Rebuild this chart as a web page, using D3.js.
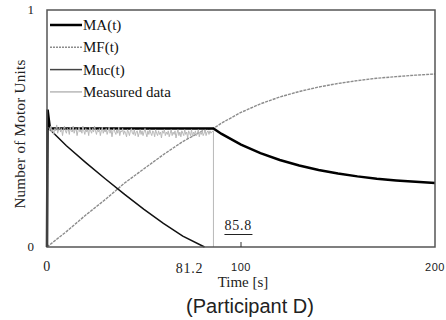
<!DOCTYPE html>
<html>
<head>
<meta charset="utf-8">
<script src="https://cdn.jsdelivr.net/npm/d3@7"></script>
<style>
  body { margin: 0; background: #fff; }
  svg { display: block; }
</style>
</head>
<body>
<svg id="chart" width="446" height="320"></svg>
<script>
// MA(t): active motor units
const maTime = [0, 0.3, 1.5, 85.8, 90, 100, 110, 120, 130, 140, 150, 160, 170, 180, 190, 200];
const maValue = [0, 0.58, 0.5, 0.5, 0.477, 0.432, 0.396, 0.367, 0.344, 0.325, 0.31, 0.298, 0.288, 0.281, 0.275, 0.27];

// MF(t): fatigued motor units
const mfTime = [0, 10, 20, 30, 40, 50, 60, 70, 81.2, 85.8, 90, 100, 110, 120, 130, 140, 150, 160, 170, 180, 190, 200];
const mfValue = [0, 0.065, 0.135, 0.2, 0.27, 0.33, 0.39, 0.445, 0.495, 0.5, 0.523, 0.568, 0.604, 0.633, 0.656, 0.675, 0.69, 0.702, 0.712, 0.719, 0.725, 0.73];

// Muc(t): unrecruited motor units
const mucTime = [1, 10, 20, 30, 40, 50, 60, 70, 81.2];
const mucValue = [0.5, 0.427, 0.356, 0.288, 0.222, 0.159, 0.1, 0.046, 0];

// measured data, two samples per second until the end of the task
const measValue = [0.505, 0.49, 0.51, 0.485, 0.495, 0.475, 0.5, 0.49, 0.515, 0.48,
  0.495, 0.505, 0.485, 0.5, 0.47, 0.495, 0.51, 0.49, 0.48, 0.5,
  0.495, 0.475, 0.505, 0.49, 0.485, 0.51, 0.48, 0.495, 0.5, 0.47,
  0.49, 0.505, 0.485, 0.495, 0.48, 0.51, 0.49, 0.475, 0.5, 0.485,
  0.495, 0.47, 0.505, 0.49, 0.48, 0.5, 0.485, 0.51, 0.49, 0.475,
  0.495, 0.485, 0.5, 0.47, 0.49, 0.505, 0.48, 0.495, 0.485, 0.5,
  0.475, 0.49, 0.505, 0.48, 0.495, 0.465, 0.49, 0.5, 0.485, 0.475,
  0.495, 0.48, 0.505, 0.47, 0.49, 0.485, 0.5, 0.475, 0.49, 0.48,
  0.465, 0.495, 0.485, 0.47, 0.49, 0.5, 0.48, 0.475, 0.495, 0.47,
  0.485, 0.49, 0.465, 0.48, 0.495, 0.475, 0.49, 0.47, 0.485, 0.5,
  0.48, 0.465, 0.49, 0.475, 0.495, 0.48, 0.47, 0.49, 0.485, 0.465,
  0.495, 0.48, 0.47, 0.49, 0.475, 0.485, 0.46, 0.49, 0.48, 0.495,
  0.47, 0.485, 0.475, 0.49, 0.465, 0.48, 0.495, 0.47, 0.485, 0.475,
  0.49, 0.46, 0.48, 0.495, 0.47, 0.485, 0.465, 0.49, 0.48, 0.47,
  0.495, 0.475, 0.485, 0.46, 0.49, 0.48, 0.47, 0.495, 0.465, 0.485,
  0.475, 0.49, 0.47, 0.48, 0.495, 0.465, 0.485, 0.475, 0.49, 0.47,
  0.48, 0.495, 0.47, 0.485, 0.49, 0.475, 0.49, 0.48, 0.485, 0.49];
const measEnd = 85.8;

const xTicks = [0, 81.2, 100, 200];
const yTicks = [0, 1];
const legendItems = ['MA(t)', 'MF(t)', 'Muc(t)', 'Measured data'];

const svg = d3.select('#chart');
const plotLeft = 47, plotRight = 435, plotTop = 10, plotBottom = 247;

const x = d3.scaleLinear().domain([0, 200]).range([plotLeft, plotRight]);
const y = d3.scaleLinear().domain([0, 1]).range([plotBottom, plotTop]);

const line = d3.line().x(d => x(d[0])).y(d => y(d[1]));
const zip = (t, v) => t.map((d, i) => [d, v[i]]);

// measured data with its drop at the end
const meas = measValue.map((v, i) => [1 + i * 0.5, v]).filter(d => d[0] < measEnd);
meas.push([measEnd, 0.49], [measEnd, 0]);

const styles = {
  'MA(t)': {stroke: '#000', width: 2.5, dash: null},
  'MF(t)': {stroke: '#8c8c8c', width: 1.4, dash: '3,1'},
  'Muc(t)': {stroke: '#111', width: 1.5, dash: null},
  'Measured data': {stroke: '#b8b8b8', width: 1, dash: null}
};

function draw(data, key) {
  const s = styles[key];
  svg.append('path')
    .datum(data)
    .attr('fill', 'none')
    .attr('stroke', s.stroke)
    .attr('stroke-width', s.width)
    .attr('stroke-dasharray', s.dash)
    .attr('d', line);
}

draw(zip(mfTime, mfValue), 'MF(t)');
draw(zip(mucTime, mucValue), 'Muc(t)');
draw(zip(maTime, maValue), 'MA(t)');
draw(meas, 'Measured data');

// frame
svg.append('rect')
  .attr('x', plotLeft).attr('y', plotTop)
  .attr('width', plotRight - plotLeft).attr('height', plotBottom - plotTop)
  .attr('fill', 'none')
  .attr('stroke', '#555')
  .attr('stroke-width', 1.5);

// tick at 100
svg.append('line')
  .attr('x1', x(100)).attr('x2', x(100))
  .attr('y1', plotBottom).attr('y2', plotBottom - 5)
  .attr('stroke', '#333');

const serif = 'Liberation Serif, Times New Roman, serif';
const sans = 'Liberation Sans, Arial, sans-serif';

// x tick labels
svg.selectAll('.xt')
  .data(xTicks)
  .enter().append('text')
  .attr('x', d => x(d) - (d === 81.2 ? 15 : 0))
  .attr('y', d => d === 81.2 ? 273 : 271)
  .attr('text-anchor', 'middle')
  .style('font-family', d => (d === 100 || d === 200) ? sans : serif)
  .style('font-size', d => (d === 100 || d === 200) ? '11px' : '14px')
  .style('letter-spacing', d => d === 81.2 ? '0.8px' : '0.5px')
  .style('fill', '#222')
  .text(d => d);

// y tick labels
svg.selectAll('.yt')
  .data(yTicks)
  .enter().append('text')
  .attr('x', 34)
  .attr('y', d => y(d) + 4)
  .attr('text-anchor', 'end')
  .style('font-family', serif)
  .style('font-size', '13px')
  .style('fill', '#222')
  .text(d => d);

// 85.8 label
svg.append('text')
  .attr('x', x(measEnd) + 11)
  .attr('y', 230)
  .style('font-family', serif)
  .style('font-size', '14px')
  .style('letter-spacing', '0.8px')
  .style('fill', '#222')
  .text(measEnd);
svg.append('line')
  .attr('x1', x(measEnd) + 11).attr('x2', x(measEnd) + 39)
  .attr('y1', 234.5).attr('y2', 234.5)
  .attr('stroke', '#222').attr('stroke-width', 1);

// axis titles
svg.append('text')
  .attr('x', 243).attr('y', 287)
  .attr('text-anchor', 'middle')
  .style('font-family', serif)
  .style('font-size', '15px')
  .style('fill', '#222')
  .text('Time [s]');

svg.append('text')
  .attr('transform', 'translate(25,134) rotate(-90)')
  .attr('text-anchor', 'middle')
  .style('font-family', serif)
  .style('font-size', '15px')
  .style('letter-spacing', '0.3px')
  .style('fill', '#222')
  .text('Number of Motor Units');

svg.append('text')
  .attr('x', 250).attr('y', 313)
  .attr('text-anchor', 'middle')
  .style('font-family', sans)
  .style('font-size', '20px')
  .style('fill', '#222')
  .text('(Participant D)');

// legend
const lg = svg.selectAll('.lg')
  .data(legendItems)
  .enter().append('g')
  .attr('transform', (d, i) => 'translate(50,' + (25 + i * 22.3) + ')');

lg.append('line')
  .attr('x1', 0).attr('x2', 32)
  .attr('stroke', d => d === 'Muc(t)' ? '#444' : styles[d].stroke)
  .attr('stroke-width', d => d === 'Measured data' ? 1.5 : styles[d].width)
  .attr('stroke-dasharray', d => d === 'MF(t)' ? '2,1' : styles[d].dash);

lg.append('text')
  .attr('x', 33).attr('y', 5)
  .style('font-family', serif)
  .style('font-size', '15px')
  .style('fill', '#111')
  .text(d => d);
</script>
</body>
</html>
